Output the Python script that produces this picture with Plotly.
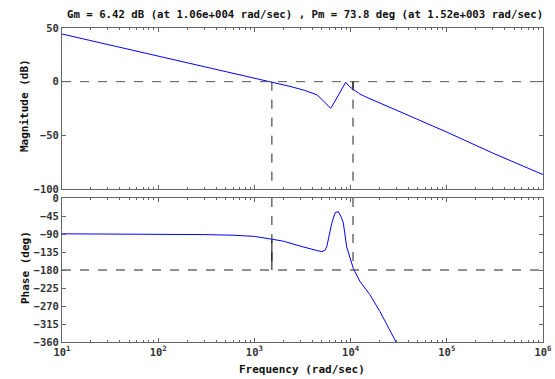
import plotly.graph_objects as go

# ---- data ----
mag_freq = [10, 100, 1000, 1520, 2345, 3300, 4440, 5200, 5700, 6200, 6800, 7450, 8200,
            8890, 9700, 10670, 12500, 14700, 20200, 32660, 100000, 300000, 1000000]
mag_db = [44.4, 24.0, 3.7, 0.0, -4.4, -8.0, -12.2, -17.7, -21.5, -24.9, -19.0, -12.4, -6.0,
          -0.6, -4.5, -7.4, -11.5, -14.6, -19.8, -28.0, -47.0, -66.5, -86.6]

ph_freq = [10, 100, 300, 600, 1000, 1520, 2000, 2979, 3700, 4400, 5012, 5400, 5650, 6000,
           6370, 6890, 7450, 8000, 8400, 9100, 9700, 10670, 12530, 15900, 20200, 24700,
           28970, 32000]
ph_deg = [-89.5, -90.3, -91.5, -93, -96, -103, -108, -120, -127, -131, -134, -131, -122, -92,
          -63, -37, -34, -48, -62, -122, -142, -176, -209, -242, -284, -322, -355, -380]

gm_db = 6.42
gm_freq = 1.06e4
pm_deg = 73.8
pm_freq = 1.52e3

title = "Gm = 6.42 dB (at 1.06e+004 rad/sec) , Pm = 73.8 deg (at 1.52e+003 rad/sec)"
mag_ticks = [50, 0, -50, -100]
ph_ticks = [0, -45, -90, -135, -180, -225, -270, -315, -360]
x_ticks = [10, 100, 1000, 10000, 100000, 1000000]
x_ticktext = ["10<sup>1</sup>", "10<sup>2</sup>", "10<sup>3</sup>",
              "10<sup>4</sup>", "10<sup>5</sup>", "10<sup>6</sup>"]

FONT = "DejaVu Sans Mono"
AX = "#666666"
BLUE = "#0000ff"

minor_vals = [m * 10 ** k for k in range(1, 6) for m in range(2, 10)]

fig = go.Figure()

fig.add_trace(go.Scatter(x=mag_freq, y=mag_db, mode="lines",
                         line=dict(color=BLUE, width=1), xaxis="x", yaxis="y"))
fig.add_trace(go.Scatter(x=ph_freq, y=ph_deg, mode="lines",
                         line=dict(color=BLUE, width=1), xaxis="x2", yaxis="y2"))

xmin, xmax = x_ticks[0], x_ticks[-1]
pm_phase = -180 + pm_deg

# magnitude reference lines
fig.add_trace(go.Scatter(x=[xmin, xmax], y=[0, 0], mode="lines",
                         line=dict(color="#555555", width=1, dash="dash"), xaxis="x", yaxis="y"))
fig.add_trace(go.Scatter(x=[pm_freq, pm_freq], y=[0, -100], mode="lines",
                         line=dict(color="#222222", width=1, dash="dash"), xaxis="x", yaxis="y"))
fig.add_trace(go.Scatter(x=[gm_freq, gm_freq], y=[0, -100], mode="lines",
                         line=dict(color="#222222", width=1, dash="dash"), xaxis="x", yaxis="y"))
fig.add_trace(go.Scatter(x=[gm_freq, gm_freq], y=[0, -gm_db], mode="lines",
                         line=dict(color="#000000", width=1), xaxis="x", yaxis="y"))

# phase reference lines
fig.add_trace(go.Scatter(x=[xmin, xmax], y=[-180, -180], mode="lines",
                         line=dict(color="#222222", width=1, dash="dash"), xaxis="x2", yaxis="y2"))
fig.add_trace(go.Scatter(x=[pm_freq, pm_freq], y=[0, -180], mode="lines",
                         line=dict(color="#222222", width=1, dash="dash"), xaxis="x2", yaxis="y2"))
fig.add_trace(go.Scatter(x=[pm_freq, pm_freq], y=[pm_phase, -180], mode="lines",
                         line=dict(color="#000000", width=1), xaxis="x2", yaxis="y2"))
fig.add_trace(go.Scatter(x=[gm_freq, gm_freq], y=[0, -180], mode="lines",
                         line=dict(color="#222222", width=1, dash="dash"), xaxis="x2", yaxis="y2"))

tickfont = dict(family=FONT, size=10.5, color="#333333", weight="bold")

common_x = dict(type="log", range=[1, 6], showgrid=False, zeroline=False, automargin=False,
                showline=True, linecolor=AX, linewidth=1, mirror="ticks",
                ticks="inside", ticklen=4, tickcolor=AX,
                tickvals=x_ticks, ticktext=x_ticktext, tickfont=tickfont,
                minor=dict(ticks="inside", ticklen=2, tickcolor=AX, tickvals=minor_vals,
                           showgrid=False))
common_y = dict(showgrid=False, zeroline=False, showline=True, linecolor=AX, mirror="ticks",
                automargin=False, ticks="inside", ticklen=4, tickcolor=AX, tickfont=tickfont)

L, R, T, B = 62, 12, 28, 37
W, H = 555, 379
pw, ph = W - L - R, H - T - B

def px(x):
    return (x - L) / pw

def py(y):
    return (H - B - y) / ph

fig.update_layout(
    width=W, height=H,
    margin=dict(l=L, r=R, t=T, b=B, autoexpand=False),
    paper_bgcolor="white", plot_bgcolor="white",
    showlegend=False,
    font=dict(family=FONT, size=10, color="#111111"),
    xaxis=dict(common_x, domain=[0, 1], anchor="y", showticklabels=False),
    yaxis=dict(common_y, domain=[py(189), 1], range=[-100, 50], tickvals=mag_ticks),
    xaxis2=dict(common_x, domain=[0, 1], anchor="y2"),
    yaxis2=dict(common_y, domain=[0, py(198)], range=[-360, 0], tickvals=ph_ticks),
)

title_font = dict(family=FONT, size=11, color="#111111", weight="bold")
fig.add_annotation(text=title, xref="paper", yref="paper", x=px(305), y=py(15),
                   xanchor="center", yanchor="middle", showarrow=False,
                   font=dict(family=FONT, size=10.7, color="#111111", weight="bold"))
fig.add_annotation(text="Frequency (rad/sec)", xref="paper", yref="paper", x=px(302), y=py(369),
                   xanchor="center", yanchor="middle", showarrow=False, font=title_font)
fig.add_annotation(text="Magnitude (dB)", xref="paper", yref="paper", x=px(25), y=py(106),
                   xanchor="center", yanchor="middle", showarrow=False, textangle=-90,
                   font=title_font)
fig.add_annotation(text="Phase (deg)", xref="paper", yref="paper", x=px(25), y=py(268),
                   xanchor="center", yanchor="middle", showarrow=False, textangle=-90,
                   font=title_font)

fig.write_html("out.html")
